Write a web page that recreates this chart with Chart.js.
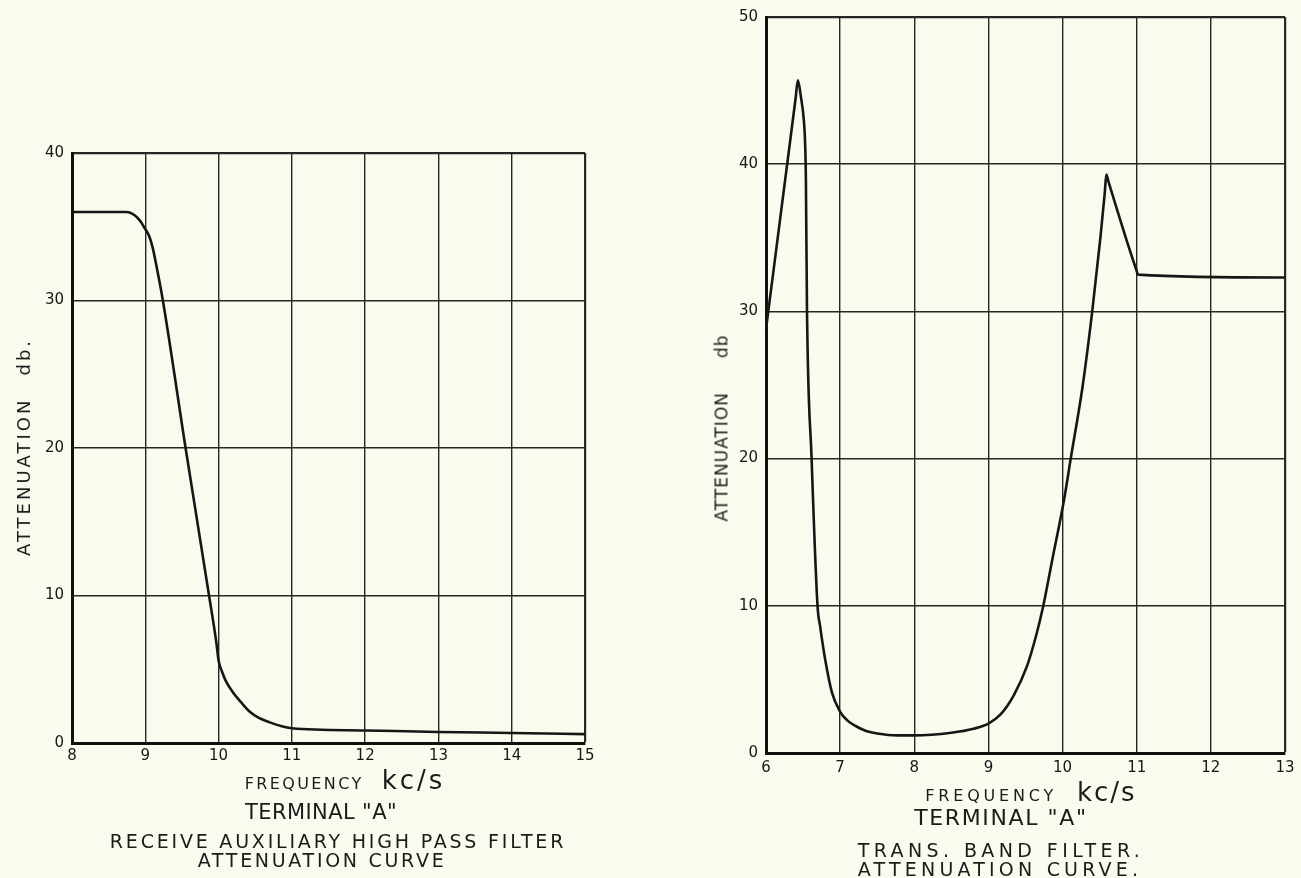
<!DOCTYPE html>
<html><head><meta charset="utf-8">
<script src="https://cdn.jsdelivr.net/npm/chart.js@4.4.1/dist/chart.umd.min.js"></script>
<style>
html,body{margin:0;padding:0;background:#fbfaef;}
body{width:1301px;height:878px;position:relative;overflow:hidden;font-family:"DejaVu Sans",sans-serif;color:#1b1b1b;}
canvas{position:absolute;top:0;}
.t{position:absolute;white-space:nowrap;transform:translate(-50%,-50%);line-height:1;}
.r{transform:translate(-50%,-50%) rotate(-90deg);}
.sp{display:inline-block;}
</style></head><body>
<canvas id="c1" width="640" height="878" style="left:0"></canvas>
<canvas id="c2" width="661" height="878" style="left:640px"></canvas>

<div class="t r" style="left:24px;top:447px;font-size:18px;letter-spacing:3px">ATTENUATION<span class="sp" style="width:22px"></span>db.</div>
<div class="t" style="left:345px;top:780px;font-size:16px;letter-spacing:2.4px">FREQUENCY<span class="sp" style="width:18px"></span><span style="font-size:26px;letter-spacing:3px">kc/s</span></div>
<div class="t" style="left:321px;top:812px;font-size:21px;letter-spacing:0.4px">TERMINAL "A"</div>
<div class="t" style="left:338px;top:841px;font-size:19px;letter-spacing:2.8px">RECEIVE AUXILIARY HIGH PASS FILTER</div>
<div class="t" style="left:322px;top:860px;font-size:19px;letter-spacing:2.7px">ATTENUATION CURVE</div>

<div class="t r" style="left:722px;top:428px;font-size:17px;letter-spacing:1px">ATTENUATION<span class="sp" style="width:34px"></span>db</div>
<div class="t" style="left:1031px;top:792px;font-size:16px;letter-spacing:3.8px">FREQUENCY<span class="sp" style="width:20px"></span><span style="font-size:26px;letter-spacing:2px">kc/s</span></div>
<div class="t" style="left:1001px;top:818px;font-size:22px;letter-spacing:1.6px">TERMINAL "A"</div>
<div class="t" style="left:1001px;top:850px;font-size:19px;letter-spacing:4.4px">TRANS. BAND FILTER.</div>
<div class="t" style="left:1000px;top:869px;font-size:19px;letter-spacing:4.2px">ATTENUATION CURVE.</div>

<script>
// Left chart: Receive auxiliary high pass filter (Terminal "A")
const hpFreq  = [8, 8.5, 8.75, 8.85, 8.93, 8.98, 9.05, 9.1, 9.15, 9.24, 9.55, 9.87, 9.97, 10.0, 10.05, 10.1, 10.2, 10.3, 10.43, 10.55, 10.7, 10.85, 11, 12, 13, 14, 15];
const hpAtten = [36, 36, 36, 35.8, 35.4, 35.0, 34.4, 33.6, 32.4, 30, 20, 10, 6.8, 5.6, 4.8, 4.2, 3.4, 2.8, 2.1, 1.7, 1.4, 1.15, 1.0, 0.85, 0.75, 0.68, 0.6];
const hpXTicks = [8, 9, 10, 11, 12, 13, 14, 15];
const hpYTicks = [0, 10, 20, 30, 40];

// Right chart: Trans. band filter (Terminal "A")
const bfFreq  = [6.0, 6.40, 6.43, 6.47, 6.51, 6.527, 6.538, 6.553, 6.615, 6.695, 6.73, 6.8, 6.89, 7.0, 7.1, 7.22, 7.35, 7.5, 7.77, 8.0, 8.5, 8.8, 9.0, 9.16, 9.34, 9.52, 9.65, 9.74, 9.86, 10.02, 10.11, 10.27, 10.4, 10.51, 10.57, 10.59, 10.62, 10.99, 11.02, 13.0];
const bfAtten = [28.8, 44.5, 45.7, 44.6, 43.0, 41.5, 39.0, 30.0, 20.0, 10.0, 8.6, 6.3, 4.1, 2.8, 2.2, 1.8, 1.5, 1.33, 1.2, 1.2, 1.38, 1.65, 2.0, 2.6, 3.9, 5.9, 8.1, 10.0, 13.1, 17.2, 20.0, 24.9, 30.0, 35.0, 38.1, 39.3, 38.8, 32.9, 32.5, 32.3];
const bfXTicks = [6, 7, 8, 9, 10, 11, 12, 13];
const bfYTicks = [0, 10, 20, 30, 40, 50];

const INK = '#161616';
const GRID = '#262626';
const tickFont = {family: 'DejaVu Sans', size: 15};

function makeChart(id, xs, ys, xTicks, yTicks, area, canvasW) {
  const pts = xs.map((x, i) => ({x: x, y: ys[i]}));
  const xMax = xTicks[xTicks.length - 1], yMax = yTicks[yTicks.length - 1];
  return new Chart(document.getElementById(id), {
    type: 'line',
    data: {datasets: [{data: pts, borderColor: INK, borderWidth: 2.6, pointRadius: 0,
      cubicInterpolationMode: 'monotone', borderJoinStyle: 'round', borderCapStyle: 'round', fill: false}]},
    options: {
      responsive: false, animation: false, events: [],
      plugins: {legend: {display: false}, tooltip: {enabled: false}},
      layout: {padding: {left: 0, top: area.top, right: canvasW - area.right, bottom: 0}},
      scales: {
        x: {
          type: 'linear', min: xTicks[0], max: xMax,
          afterBuildTicks: s => { s.ticks = xTicks.map(v => ({value: v})); },
          afterFit: s => { s.height = 878 - area.bottom; },
          ticks: {color: INK, font: tickFont, padding: area.xpad, autoSkip: false, maxRotation: 0},
          grid: {color: GRID, lineWidth: c => (c.tick && c.tick.value === xMax) ? 2.2 : 1.4, drawTicks: false},
          border: {display: true, color: '#111', width: 3}
        },
        y: {
          min: yTicks[0], max: yMax,
          afterBuildTicks: s => { s.ticks = yTicks.map(v => ({value: v})); },
          afterFit: s => { s.width = area.left; },
          ticks: {color: INK, font: tickFont, padding: 8},
          grid: {color: GRID, lineWidth: c => (c.tick && c.tick.value === yMax) ? 2.2 : 1.4, drawTicks: false},
          border: {display: true, color: '#111', width: 3}
        }
      }
    }
  });
}

makeChart('c1', hpFreq, hpAtten, hpXTicks, hpYTicks, {left: 72, top: 153, right: 585, bottom: 743, xpad: 4}, 640);
makeChart('c2', bfFreq, bfAtten, bfXTicks, bfYTicks, {left: 126, top: 17, right: 645, bottom: 753, xpad: 6}, 661);
</script>
</body></html>
